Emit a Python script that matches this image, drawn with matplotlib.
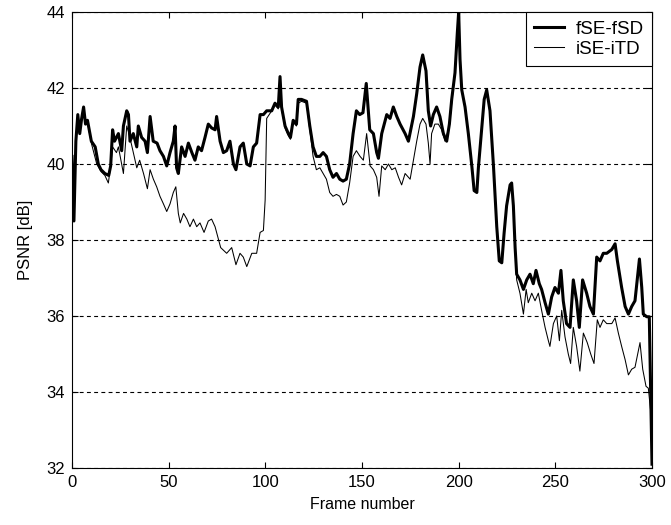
import numpy as np
import matplotlib
matplotlib.use("Agg")
import matplotlib.pyplot as plt

plt.rcParams['font.family'] = ['Liberation Sans', 'DejaVu Sans']

# fSE-fSD (thick line)
fse_frame = [0, 1, 2, 3, 4, 5, 6, 7, 8, 10, 12, 13.6, 15, 17, 19, 20, 21, 22, 24, 25.7,
             26.6, 28.3, 29.2, 30, 31.7, 33.5, 34.3, 36, 37.8, 39, 40.4, 42, 44, 45.5, 47.3, 49, 50.7, 52.4, 53.3, 54.1,
             55, 56.7, 58.5, 60.2, 62, 63.6, 65.3, 67, 68.8, 70.5, 72.2, 74, 74.8, 76.6, 78.3, 80, 81.7, 83.5, 84.8, 86.9,
             88.6, 90.4, 92.1, 93.8, 95.5, 97.3, 99, 100.7, 103.3, 105, 106.7, 107.6, 108.4, 110.2, 111.9, 113, 114.4, 116.1, 117, 118.7,
             121.3, 123, 124.7, 126.4, 128.2, 129.9, 131.6, 133.3, 135, 136.8, 138.5, 140.2, 141.9, 143.6, 145.4, 147.1, 148.8, 150.5, 152.2, 154,
             155.9, 157.6, 158.5, 160.2, 162.8, 164.5, 166.2, 168, 169.7, 172.3, 174, 176.6, 178.3, 180, 181.4, 183.1, 184.3, 185.5, 186.9, 188.6,
             190.3, 192.1, 193.8, 195.2, 196.4, 198.1, 199.3, 200, 200.7, 201.6, 203.3, 205, 206.8, 208, 209.4, 210.2, 212, 213.2, 214.5, 216.2,
             218, 219.7, 221, 222.3, 223.5, 224.8, 226.6, 227.4, 228.3, 229.2, 230, 231.7, 233.5, 235.2, 236.9, 238.6, 240, 241.7, 242.9, 244.7,
             246.4, 248.1, 249.8, 251.6, 252.9, 254.1, 255.8, 257.6, 259.3, 261, 262.4, 264.1, 266.2, 267.9, 269.7, 271.4, 273.1, 274.8, 276.6, 279.2,
             280.9, 282.1, 284.3, 286.1, 287.8, 289.5, 291.2, 293.5, 294.7, 295.5, 297.3, 298.6, 299.3, 300]
fse_psnr = [40.2, 38.5, 40.6, 41.3, 40.8, 41.2, 41.5, 41.05, 41.15, 40.6, 40.45, 40.0, 39.85, 39.75, 39.7, 39.95, 40.9, 40.6, 40.8, 40.35,
            41.0, 41.4, 41.3, 40.6, 40.8, 40.45, 41.0, 40.7, 40.6, 40.3, 41.25, 40.6, 40.55, 40.35, 40.2, 39.95, 40.3, 40.6, 41.0, 39.9,
            39.75, 40.45, 40.2, 40.55, 40.3, 40.1, 40.45, 40.35, 40.7, 41.05, 40.95, 40.9, 41.25, 40.6, 40.3, 40.35, 40.6, 40.0, 39.85, 40.45,
            40.55, 40.0, 39.95, 40.45, 40.55, 41.3, 41.3, 41.4, 41.4, 41.6, 41.5, 42.3, 41.5, 41.0, 40.8, 40.7, 41.15, 41.05, 41.7, 41.7,
            41.65, 41.0, 40.45, 40.2, 40.2, 40.3, 40.2, 39.85, 39.65, 39.75, 39.6, 39.55, 39.6, 40.0, 40.8, 41.4, 41.3, 41.35, 42.12, 40.9,
            40.8, 40.3, 40.15, 40.8, 41.3, 41.2, 41.5, 41.25, 41.05, 40.8, 40.6, 41.25, 41.85, 42.55, 42.87, 42.45, 41.4, 41.0, 41.3, 41.5,
            41.25, 40.8, 40.6, 41.05, 41.7, 42.4, 43.45, 44.0, 42.75, 41.95, 41.5, 40.8, 39.95, 39.3, 39.25, 39.9, 41.0, 41.7, 41.95, 41.4,
            39.95, 38.35, 37.45, 37.4, 38.18, 38.9, 39.45, 39.5, 38.9, 37.8, 37.1, 36.95, 36.7, 36.95, 37.1, 36.85, 37.2, 36.85, 36.7, 36.35,
            36.05, 36.5, 36.75, 36.6, 37.2, 36.4, 35.8, 35.7, 36.95, 36.4, 35.7, 36.95, 36.6, 36.25, 36.05, 37.55, 37.45, 37.65, 37.65, 37.75,
            37.9, 37.45, 36.75, 36.25, 36.05, 36.25, 36.4, 37.5, 36.75, 36.05, 35.98, 35.98, 34.0, 32.1]

# iSE-iTD (thin line)
ise_frame = [0, 1, 2, 3, 4, 5, 6, 7, 8, 10, 12.8, 15, 17, 18.8, 20, 21, 23, 24, 26.6, 28.3,
             29.5, 31.7, 33.5, 35, 37, 39, 40.4, 42.1, 43.8, 45.5, 47.3, 49, 50.7, 52.4, 53.7, 55, 56, 57.7, 59.4, 61,
             62.8, 64.5, 66.2, 68.3, 70.5, 72.2, 74, 76.9, 80, 82.6, 84.8, 86.9, 88.6, 90.4, 93, 95.5, 97.3, 99, 99.9, 100.7,
             103.3, 105, 106.7, 107.6, 108.4, 110.2, 111.9, 113, 114.4, 116.1, 117, 118.7, 121.3, 123, 124.7, 126.4, 128.2, 129.9, 131.6, 133.3,
             135, 136.8, 138.5, 140.2, 141.9, 143.6, 145.4, 147.1, 149, 150.7, 152.4, 154.2, 155.9, 157.6, 158.8, 160.2, 162, 163.7, 165.4, 167.2,
             168.9, 170.5, 172.3, 174.9, 176.6, 178.3, 180, 181.4, 183.1, 184.3, 185.2, 186, 187.7, 189.5, 191.2, 192.9, 195.2, 196.4, 198.1, 199.3,
             200, 200.7, 201.6, 203.3, 205, 206.8, 208, 209.4, 210.2, 212, 213.2, 214.5, 216.2, 218, 219.7, 221, 222.3, 223.5, 224.8, 226.6,
             227.4, 228.3, 229.2, 230, 231.7, 233.5, 234.9, 236, 237.8, 239.5, 241.2, 242.9, 244.7, 246.4, 247.2, 249, 250.7, 252.1, 253.3, 255,
             256.7, 257.9, 259.3, 261, 262.7, 264.5, 266.5, 268.3, 270, 271.7, 273.1, 274.8, 276.6, 279.2, 280.9, 282.6, 284.3, 286.1, 287.8, 289.5,
             291.2, 293.8, 295.2, 296.9, 298.1, 299.3, 300]
ise_psnr = [40.2, 38.5, 40.6, 41.3, 40.8, 41.2, 41.5, 41.05, 41.1, 40.55, 40.0, 39.8, 39.7, 39.5, 39.95, 40.45, 40.3, 40.45, 39.75, 41.0,
            40.8, 40.3, 39.9, 40.1, 39.75, 39.35, 39.85, 39.6, 39.4, 39.15, 38.95, 38.75, 38.95, 39.25, 39.4, 38.7, 38.45, 38.7, 38.55, 38.35,
            38.55, 38.35, 38.45, 38.2, 38.5, 38.55, 38.35, 37.8, 37.65, 37.8, 37.35, 37.65, 37.55, 37.3, 37.65, 37.65, 38.2, 38.25, 39.05, 41.2,
            41.4, 41.55, 41.45, 42.2, 41.45, 40.95, 40.75, 40.65, 41.1, 41.0, 41.6, 41.65, 41.6, 40.9, 40.2, 39.85, 39.9, 39.75, 39.6, 39.25,
            39.15, 39.2, 39.15, 38.92, 39.0, 39.5, 40.2, 40.35, 40.2, 40.1, 40.8, 39.95, 39.85, 39.65, 39.15, 39.95, 39.85, 40.0, 39.85, 39.9,
            39.65, 39.45, 39.75, 39.6, 40.1, 40.6, 41.05, 41.2, 41.05, 40.55, 40.0, 40.8, 41.05, 41.05, 40.9, 40.6, 41.0, 41.6, 42.4, 43.45,
            44.0, 42.75, 41.95, 41.5, 40.8, 39.95, 39.3, 39.25, 39.9, 41.0, 41.7, 41.95, 41.4, 39.95, 38.35, 37.45, 37.4, 38.18, 38.9, 39.45,
            39.5, 38.9, 37.8, 36.95, 36.6, 36.05, 36.7, 36.35, 36.6, 36.4, 36.6, 36.15, 35.7, 35.35, 35.2, 35.8, 36.0, 35.35, 36.15, 35.45,
            35.0, 34.75, 35.7, 35.2, 34.55, 35.55, 35.3, 35.0, 34.75, 35.9, 35.7, 35.9, 35.8, 35.8, 35.95, 35.55, 35.2, 34.85, 34.45, 34.6,
            34.65, 35.3, 34.6, 34.15, 34.1, 33.5, 32.3]

x_ticks = [0, 50, 100, 150, 200, 250, 300]
y_ticks = [32, 34, 36, 38, 40, 42, 44]

fig = plt.figure(figsize=(6.71, 5.25), dpi=100)
ax = fig.add_axes([72/671, 57/525, 580/671, 456/525])

ax.plot(fse_frame, fse_psnr, color='black', lw=2.2, label='fSE-fSD', zorder=3)
ax.plot(ise_frame, ise_psnr, color='black', lw=0.75, label='iSE-iTD', zorder=2)

ax.set_xlim(0, 300)
ax.set_ylim(32, 44)
ax.set_xticks(x_ticks)
ax.set_yticks(y_ticks)
ax.tick_params(direction='in', top=True, right=True, labelsize=12, length=4, pad=5)
ax.yaxis.grid(True, color='black', linestyle=(0, (3.5, 3)), linewidth=0.8)
for s in ax.spines.values():
    s.set_linewidth(0.8)

ax.set_xlabel('Frame number', fontsize=11.5, labelpad=5)
ax.set_ylabel('PSNR [dB]', fontsize=12, labelpad=10)

leg = ax.legend(loc='upper right', fontsize=13.5, fancybox=False, framealpha=1,
                edgecolor='black', borderaxespad=0, handlelength=1.6,
                handletextpad=0.6, labelspacing=0.15, borderpad=0.45)
leg.get_frame().set_linewidth(0.8)

fig.savefig('out.png', dpi=100)
